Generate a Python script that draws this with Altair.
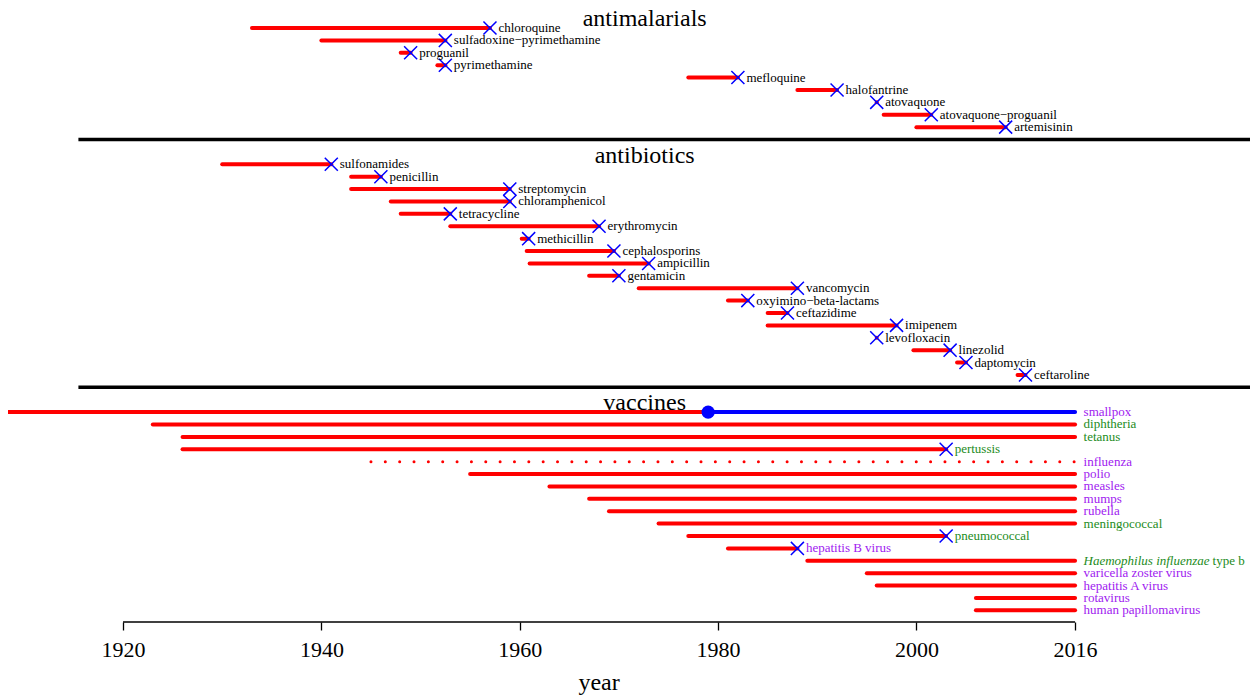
import altair as alt
import pandas as pd

# ---------------- data (years) ----------------
antimalarial_names = ["chloroquine", "sulfadoxine\u2212pyrimethamine", "proguanil", "pyrimethamine",
                      "mefloquine", "halofantrine", "atovaquone", "atovaquone\u2212proguanil", "artemisinin"]
antimalarial_intro = [1933, 1940, 1948, 1951.7, 1977, 1988, 1996, 1996.7, 2000]
antimalarial_resist = [1957, 1952.5, 1949, 1952.5, 1982, 1992, 1996, 2001.5, 2009]

antibiotic_names = ["sulfonamides", "penicillin", "streptomycin", "chloramphenicol", "tetracycline",
                    "erythromycin", "methicillin", "cephalosporins", "ampicillin", "gentamicin",
                    "vancomycin", "oxyimino\u2212beta-lactams", "ceftazidime", "imipenem", "levofloxacin",
                    "linezolid", "daptomycin", "ceftaroline"]
antibiotic_intro = [1930, 1943, 1943, 1947, 1948, 1953, 1960.2, 1960.7, 1961, 1967, 1972, 1981, 1985,
                    1985, 1996, 1999.7, 2004.1, 2010.2]
antibiotic_resist = [1941, 1946, 1959, 1959, 1953, 1968, 1960.9, 1969.5, 1973, 1970, 1988, 1983, 1987,
                     1998, 1996, 2003.4, 2005, 2011]

vaccine_names = ["smallpox", "diphtheria", "tetanus", "pertussis", "influenza", "polio", "measles",
                 "mumps", "rubella", "meningococcal", "pneumococcal", "hepatitis B virus",
                 "Haemophilus influenzae type b", "varicella zoster virus", "hepatitis A virus",
                 "rotavirus", "human papillomavirus"]
vaccine_intro = [1796, 1923, 1926, 1926, 1945, 1955, 1963, 1967, 1969, 1974, 1977, 1981, 1989, 1995,
                 1996, 2006, 2006]
vaccine_resist = [None, None, None, 2003, None, None, None, None, None, None, 2003, 1988, None, None,
                  None, None, None]
vaccine_pathogen = ["virus", "bacterium", "bacterium", "bacterium", "virus", "virus", "virus", "virus",
                    "virus", "bacterium", "bacterium", "virus", "bacterium", "virus", "virus", "virus",
                    "virus"]
vaccine_dotted = ["influenza"]
smallpox_eradication = 1979
current_year = 2016

group_titles = ["antimalarials", "antibiotics", "vaccines"]
axis_ticks = [1920, 1940, 1960, 1980, 2000, 2016]
axis_title = "year"

# ---------------- styling ----------------
FONT = "Liberation Serif"
RED, BLUE = "#ff0000", "#0000ff"
PATH_COLOR = {"virus": "#a020f0", "bacterium": "#228b22"}
PLOT_W, PLOT_H = 1242, 614
X_MIN = 1908.4
X_MAX = X_MIN + PLOT_W / 9.917
Y_TOP, Y_BOTTOM = -1.615, 47.94
SEP_START = 1915.5
TITLE_X = 1972.6

# ---------------- tables ----------------
bars, marks, labels, titles, seps = [], [], [], [], []
row = 0
groups = [
    (antimalarial_names, antimalarial_intro, antimalarial_resist, None),
    (antibiotic_names, antibiotic_intro, antibiotic_resist, None),
    (vaccine_names, vaccine_intro, vaccine_resist, vaccine_pathogen),
]
for g, (names, intro, resist, pathogen) in enumerate(groups):
    titles.append({"title": group_titles[g], "x": TITLE_X, "row": row - 0.13})
    for i, name in enumerate(names):
        r = resist[i]
        if pathogen is None:
            end = r
            color = "black"
        else:
            end = r if r is not None else current_year
            color = PATH_COLOR[pathogen[i]]
        bar_end = end
        if name == "smallpox":
            bar_end = smallpox_eradication
        style = "dotted" if name in vaccine_dotted else "solid"
        bars.append({"name": name, "start": intro[i], "end": bar_end, "row": row, "style": style})
        if r is not None:
            marks.append({"name": name, "x": r, "row": row})
        labels.append({"name": name, "x": end, "row": row, "color": color})
        row += 1
    if g < len(groups) - 1:
        seps.append({"row": row, "x": SEP_START, "x2": X_MAX})
        row += 2

bars = pd.DataFrame(bars)
marks = pd.DataFrame(marks)
labels = pd.DataFrame(labels)
titles = pd.DataFrame(titles)
seps = pd.DataFrame(seps)

hib = "Haemophilus influenzae type b"
plain_labels = labels[labels["name"] != hib]
hib_label = labels[labels["name"] == hib].copy()
hib_italic = hib_label.assign(text="Haemophilus influenzae")
hib_roman = hib_label.assign(text="type b")

smallpox_row = labels.loc[labels["name"] == "smallpox", "row"].iloc[0]
eradicated = pd.DataFrame({"x": [smallpox_eradication], "x2": [current_year], "row": [smallpox_row]})

axis_line = pd.DataFrame({"x": [min(axis_ticks)], "x2": [max(axis_ticks)], "row": [Y_BOTTOM]})
axis_label = pd.DataFrame({"text": [axis_title], "x": [(min(axis_ticks) + max(axis_ticks)) / 2],
                           "row": [53.45]})

xscale = alt.Scale(domain=[X_MIN, X_MAX], nice=False, zero=False)
yscale = alt.Scale(domain=[Y_TOP, Y_BOTTOM], nice=False, zero=False, reverse=True)
XAXIS = alt.Axis(values=axis_ticks, domain=False, grid=False, tickSize=8, tickWidth=1.3,
                 tickColor="black", labelFont=FONT, labelFontSize=22, labelColor="black",
                 labelPadding=9, labelFlush=False, labelOverlap=False, format="d")


def X(field):
    return alt.X(field, type="quantitative", scale=xscale, axis=XAXIS, title=None)


def Y(field):
    return alt.Y(field, type="quantitative", scale=yscale, axis=None)


solid = bars[bars["style"] == "solid"]
dotted = bars[bars["style"] == "dotted"]

red_bars = alt.Chart(solid).mark_rule(color=RED, strokeWidth=4, strokeCap="round", clip=True).encode(
    x=X("start"), x2="end:Q", y=Y("row"))

dotted_bars = alt.Chart(dotted).mark_rule(color=RED, strokeWidth=3, strokeCap="round",
                                          strokeDash=[0.01, 14.34]).encode(
    x=X("start"), x2="end:Q", y=Y("row"))

blue_bar = alt.Chart(eradicated).mark_rule(color=BLUE, strokeWidth=4, strokeCap="round").encode(
    x=X("x"), x2="x2:Q", y=Y("row"))
blue_dot = alt.Chart(eradicated).mark_point(color=BLUE, filled=True, opacity=1, size=175,
                                            shape="circle").encode(x=X("x"), y=Y("row"))

crosses = alt.Chart(marks).mark_point(shape="M-1,-1L1,1M-1,1L1,-1", filled=False, color=BLUE,
                                      strokeWidth=1.5, size=170, opacity=1).encode(
    x=X("x"), y=Y("row"))

sep_lines = alt.Chart(seps).mark_rule(color="black", strokeWidth=3.5, strokeCap="butt").encode(
    x=X("x"), x2="x2:Q", y=Y("row"))

text_kw = dict(font=FONT, fontSize=13, align="left", baseline="middle", dx=8.5)
row_labels = alt.Chart(plain_labels).mark_text(**text_kw).encode(
    x=X("x"), y=Y("row"), text="name:N", color=alt.Color("color:N", scale=None))
hib_it = alt.Chart(hib_italic).mark_text(fontStyle="italic", **text_kw).encode(
    x=X("x"), y=Y("row"), text="text:N", color=alt.Color("color:N", scale=None))
hib_kw = dict(text_kw)
hib_kw["dx"] = 137.5
hib_rm = alt.Chart(hib_roman).mark_text(**hib_kw).encode(
    x=X("x"), y=Y("row"), text="text:N", color=alt.Color("color:N", scale=None))

group_titles_layer = alt.Chart(titles).mark_text(font=FONT, fontSize=24, align="center",
                                                 baseline="alphabetic", color="black").encode(
    x=X("x"), y=Y("row"), text="title:N")

axis_domain = alt.Chart(axis_line).mark_rule(color="black", strokeWidth=1.3).encode(
    x=X("x"), x2="x2:Q", y=Y("row"))
axis_name = alt.Chart(axis_label).mark_text(font=FONT, fontSize=24, align="center",
                                            baseline="alphabetic", color="black").encode(
    x=X("x"), y=Y("row"), text="text:N")

chart = alt.layer(
    sep_lines, red_bars, dotted_bars, blue_bar, blue_dot, crosses,
    row_labels, hib_it, hib_rm, group_titles_layer, axis_domain, axis_name
).properties(
    width=PLOT_W, height=PLOT_H,
    autosize=alt.AutoSizeParams(type="none"),
    padding={"left": 0, "top": 0, "right": 0, "bottom": 75},
).configure_view(strokeWidth=0)

chart.save("out.html", embed_options={"renderer": "svg", "actions": False})
